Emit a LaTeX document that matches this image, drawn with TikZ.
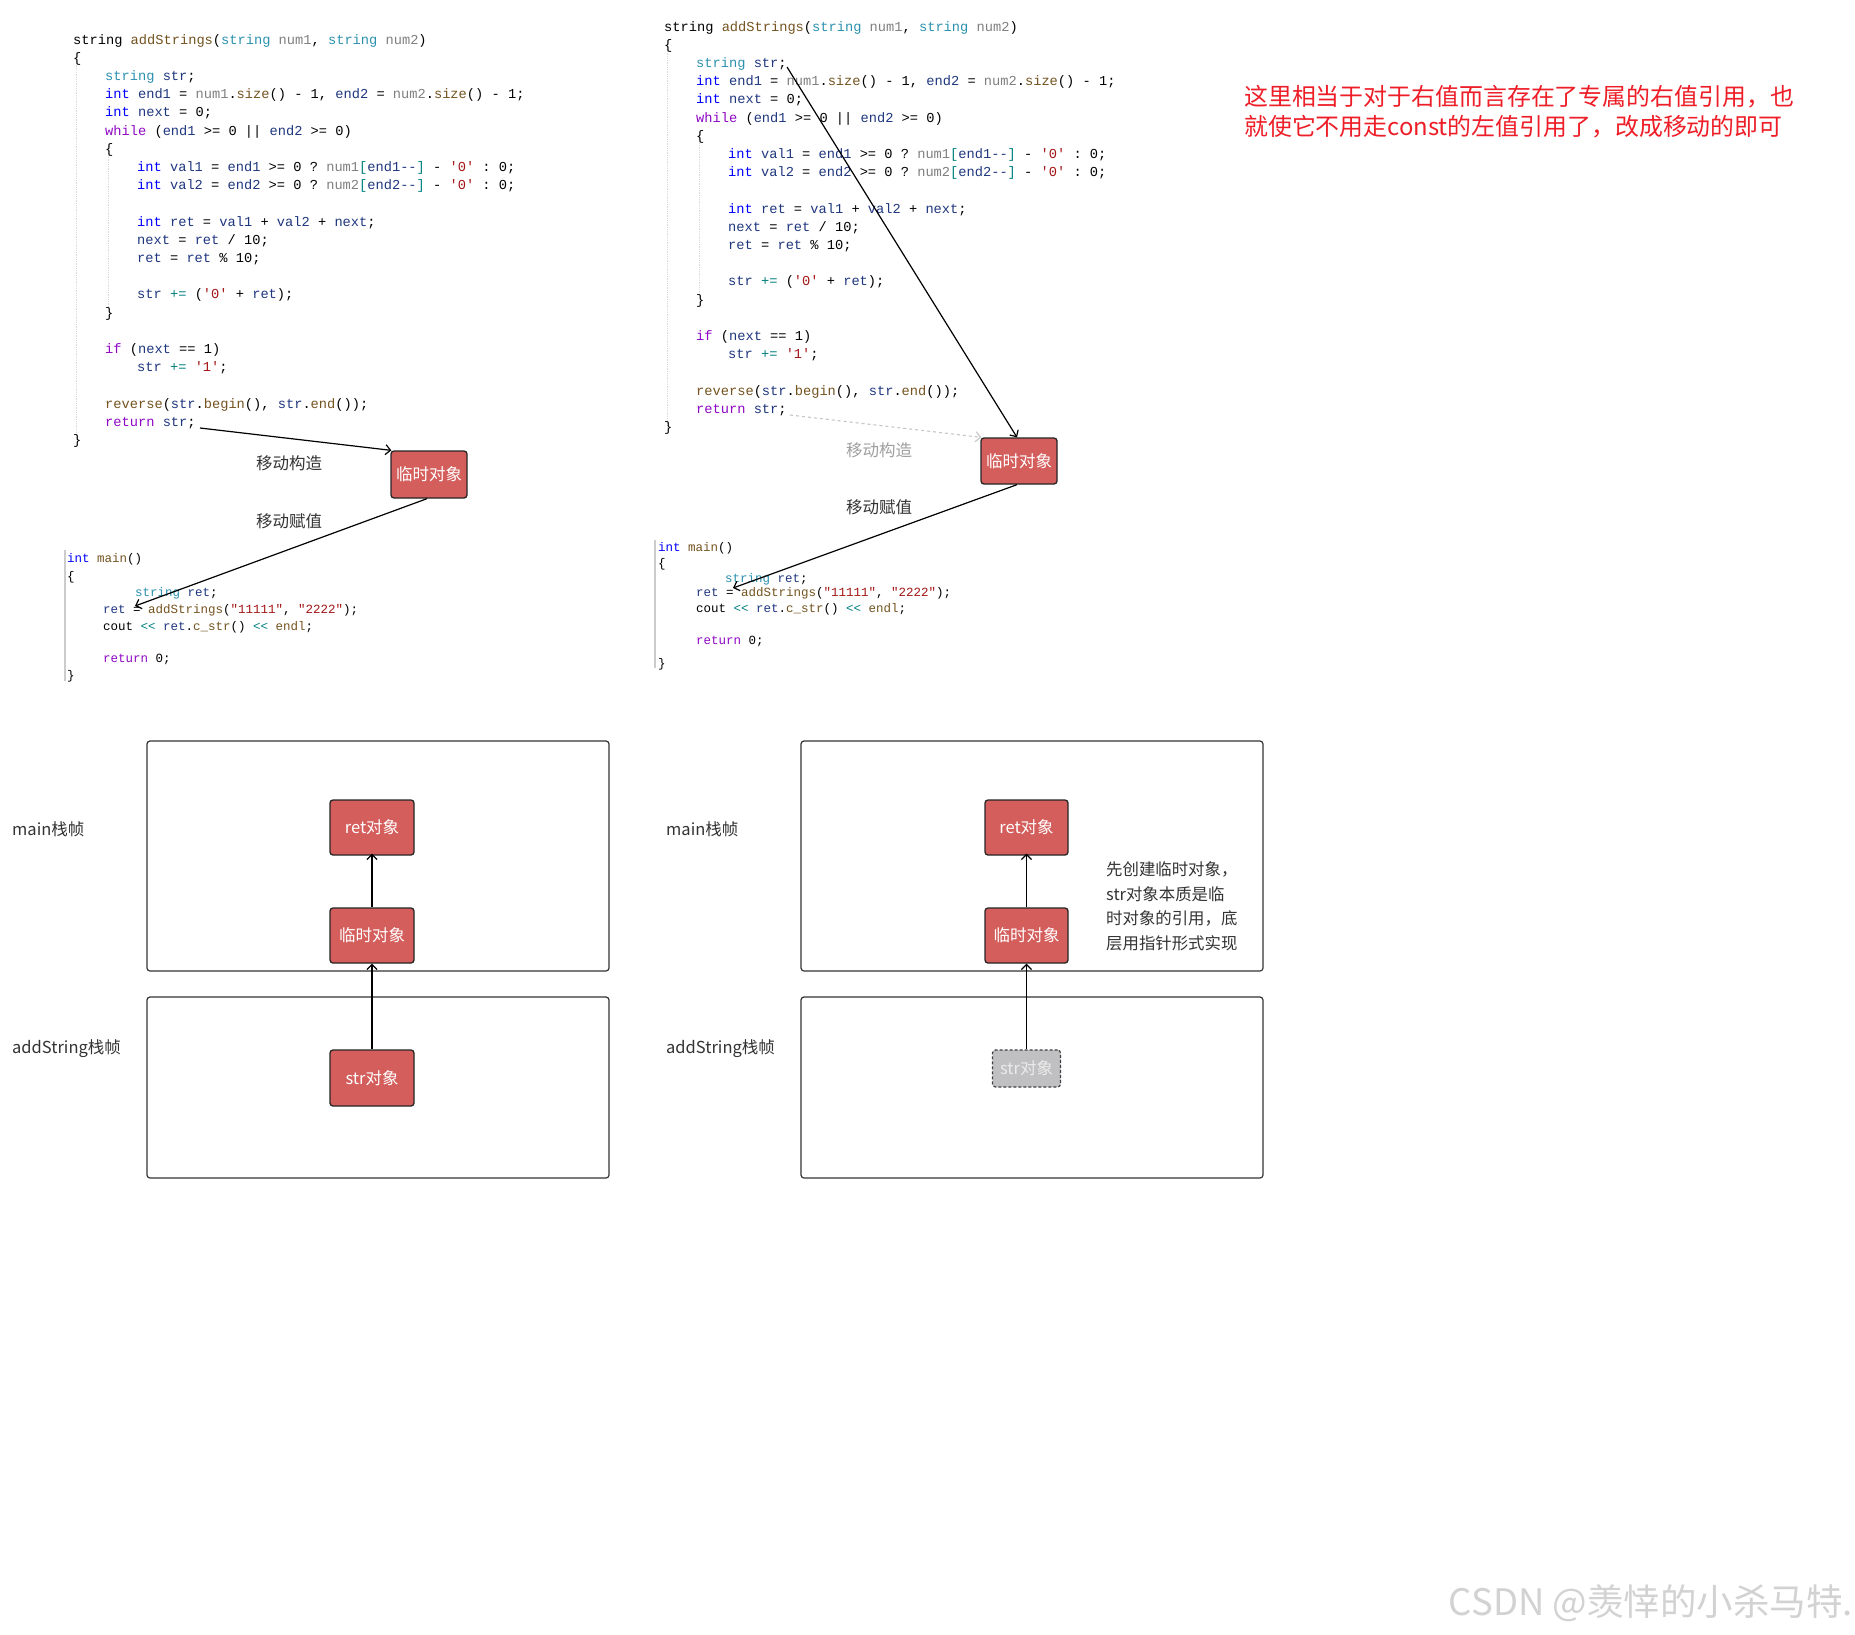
\documentclass[tikz,border=0pt]{standalone}
\usepackage{fontspec}
\setmonofont{Liberation Mono}
\newfontfamily\cjk{Noto Sans CJK SC}
\usetikzlibrary{arrows.meta}
\definecolor{ckw}{RGB}{0,0,255}
\definecolor{cty}{RGB}{43,145,175}
\definecolor{cctl}{RGB}{143,8,196}
\definecolor{cvar}{RGB}{31,55,127}
\definecolor{cpar}{RGB}{128,128,128}
\definecolor{cfn}{RGB}{116,83,31}
\definecolor{clit}{RGB}{163,21,21}
\definecolor{cop}{RGB}{0,128,128}
\definecolor{objred}{RGB}{212,94,92}
\definecolor{objgray}{RGB}{192,192,194}
\definecolor{notered}{RGB}{238,30,40}
\definecolor{labelgray}{RGB}{51,51,51}
\newcommand\Ckw[1]{\textcolor{ckw}{#1}}
\newcommand\Cty[1]{\textcolor{cty}{#1}}
\newcommand\Cctl[1]{\textcolor{cctl}{#1}}
\newcommand\Cvar[1]{\textcolor{cvar}{#1}}
\newcommand\Cpar[1]{\textcolor{cpar}{#1}}
\newcommand\Cfn[1]{\textcolor{cfn}{#1}}
\newcommand\Clit[1]{\textcolor{clit}{#1}}
\newcommand\Cop[1]{\textcolor{cop}{#1}}
\tikzset{
  code/.style={font=\ttfamily\fontsize{13.7}{16}\selectfont, inner sep=0, anchor=base west, text=black},
  mcode/.style={font=\ttfamily\fontsize{12.5}{15}\selectfont, inner sep=0, anchor=base west, text=black},
  obj/.style={draw=black!85, fill=objred, rounded corners=3, line width=1.3, text=white,
    font=\cjk\fontsize{16.5}{18}\selectfont, inner sep=0},
  ghost/.style={draw=black!75, fill=objgray, rounded corners=3, line width=1.2, densely dashed,
    text=white!92!black, font=\cjk\fontsize{16.5}{18}\selectfont, inner sep=0},
  frame/.style={draw=black!80, rounded corners=3, line width=1.2, inner sep=0},
  lbl/.style={font=\cjk\fontsize{16.5}{20}\selectfont, text=labelgray, inner sep=0},
  arr/.style={-{Straight Barb[length=5,width=10]}, line width=1.2, black},
  guide/.style={draw=gray!30, line width=0.8, densely dotted},
}
\begin{document}
\begin{tikzpicture}[x=1pt, y=-1pt]
\useasboundingbox[fill=white] (0,0) rectangle (1855,1634);

% ---------------- left top code ----------------
\draw[guide] (76,52) -- (76,440);
\draw[guide] (108,146) -- (108,308);
\node[code] (la0) at (73,44) {string \Cfn{addStrings}(\Cty{string} \Cpar{num1}, \Cty{string} \Cpar{num2})};
\node[code] (la1) at (73,62.2) {\{};
\node[code] (la2) at (105,80.4) {\Cty{string} \Cvar{str};};
\node[code] (la3) at (105,98.6) {\Ckw{int} \Cvar{end1} = \Cpar{num1}.\Cfn{size}() - 1, \Cvar{end2} = \Cpar{num2}.\Cfn{size}() - 1;};
\node[code] (la4) at (105,116.8) {\Ckw{int} \Cvar{next} = 0;};
\node[code] (la5) at (105,135) {\Cctl{while} (\Cvar{end1} >= 0 || \Cvar{end2} >= 0)};
\node[code] (la6) at (105,153.2) {\{};
\node[code] (la7) at (137,171.4) {\Ckw{int} \Cvar{val1} = \Cvar{end1} >= 0 ? \Cpar{num1}\Cop{[}\Cvar{end1--}\Cop{]} - \Clit{'0'} : 0;};
\node[code] (la8) at (137,189.6) {\Ckw{int} \Cvar{val2} = \Cvar{end2} >= 0 ? \Cpar{num2}\Cop{[}\Cvar{end2--}\Cop{]} - \Clit{'0'} : 0;};
\node[code] (la10) at (137,226) {\Ckw{int} \Cvar{ret} = \Cvar{val1} + \Cvar{val2} + \Cvar{next};};
\node[code] (la11) at (137,244.2) {\Cvar{next} = \Cvar{ret} / 10;};
\node[code] (la12) at (137,262.4) {\Cvar{ret} = \Cvar{ret} \% 10;};
\node[code] (la14) at (137,298.8) {\Cvar{str} \Cop{+=} (\Clit{'0'} + \Cvar{ret});};
\node[code] (la15) at (105,317) {\}};
\node[code] (la17) at (105,353.4) {\Cctl{if} (\Cvar{next} == 1)};
\node[code] (la18) at (137,371.6) {\Cvar{str} \Cop{+=} \Clit{'1'};};
\node[code] (la20) at (105,408) {\Cfn{reverse}(\Cvar{str}.\Cfn{begin}(), \Cvar{str}.\Cfn{end}());};
\node[code] (la21) at (105,426.2) {\Cctl{return} \Cvar{str};};
\node[code] (la22) at (73,444.4) {\}};

% ---------------- right top code ----------------
\draw[guide] (667,40) -- (667,428);
\draw[guide] (699,134) -- (699,296);
\node[code] (ra0) at (664,31) {string \Cfn{addStrings}(\Cty{string} \Cpar{num1}, \Cty{string} \Cpar{num2})};
\node[code] (ra1) at (664,49.2) {\{};
\node[code] (ra2) at (696,67.4) {\Cty{string} \Cvar{str};};
\node[code] (ra3) at (696,85.6) {\Ckw{int} \Cvar{end1} = \Cpar{num1}.\Cfn{size}() - 1, \Cvar{end2} = \Cpar{num2}.\Cfn{size}() - 1;};
\node[code] (ra4) at (696,103.8) {\Ckw{int} \Cvar{next} = 0;};
\node[code] (ra5) at (696,122) {\Cctl{while} (\Cvar{end1} >= 0 || \Cvar{end2} >= 0)};
\node[code] (ra6) at (696,140.2) {\{};
\node[code] (ra7) at (728,158.4) {\Ckw{int} \Cvar{val1} = \Cvar{end1} >= 0 ? \Cpar{num1}\Cop{[}\Cvar{end1--}\Cop{]} - \Clit{'0'} : 0;};
\node[code] (ra8) at (728,176.6) {\Ckw{int} \Cvar{val2} = \Cvar{end2} >= 0 ? \Cpar{num2}\Cop{[}\Cvar{end2--}\Cop{]} - \Clit{'0'} : 0;};
\node[code] (ra10) at (728,213) {\Ckw{int} \Cvar{ret} = \Cvar{val1} + \Cvar{val2} + \Cvar{next};};
\node[code] (ra11) at (728,231.2) {\Cvar{next} = \Cvar{ret} / 10;};
\node[code] (ra12) at (728,249.4) {\Cvar{ret} = \Cvar{ret} \% 10;};
\node[code] (ra14) at (728,285.8) {\Cvar{str} \Cop{+=} (\Clit{'0'} + \Cvar{ret});};
\node[code] (ra15) at (696,304) {\}};
\node[code] (ra17) at (696,340.4) {\Cctl{if} (\Cvar{next} == 1)};
\node[code] (ra18) at (728,358.6) {\Cvar{str} \Cop{+=} \Clit{'1'};};
\node[code] (ra20) at (696,395) {\Cfn{reverse}(\Cvar{str}.\Cfn{begin}(), \Cvar{str}.\Cfn{end}());};
\node[code] (ra21) at (696,413.2) {\Cctl{return} \Cvar{str};};
\node[code] (ra22) at (664,431.4) {\}};

% ---------------- red note ----------------
\node[anchor=north west, inner sep=0, align=left, text=notered,
  font=\cjk\fontsize{23.9}{30}\selectfont] (note) at (1244,85)
  {这里相当于对于右值而言存在了专属的右值引用，也\\就使它不用走const的左值引用了，改成移动的即可};

% ---------------- left main code ----------------
\draw[gray!40, line width=1.2] (65,550) -- (65,681);
\node[mcode] (lm0) at (67,562) {\Ckw{int} \Cfn{main}()};
\node[mcode] (lm1) at (67,580) {\{};
\node[mcode] (lm2) at (135,596) {\Cty{string} \Cvar{ret};};
\node[mcode] (lm3) at (103,613) {\Cvar{ret} = \Cfn{addStrings}(\Clit{"11111"}, \Clit{"2222"});};
\node[mcode] (lm4) at (103,630) {cout \Cop{<<} \Cvar{ret}.\Cfn{c\_str}() \Cop{<<} \Cfn{endl};};
\node[mcode] (lm5) at (103,662) {\Cctl{return} 0;};
\node[mcode] (lm6) at (67,679) {\}};

% ---------------- right main code ----------------
\draw[gray!40, line width=1.2] (655,540) -- (655,668);
\node[mcode] (rm0) at (658,551) {\Ckw{int} \Cfn{main}()};
\node[mcode] (rm1) at (658,567) {\{};
\node[mcode] (rm2) at (725,582) {\Cty{string} \Cvar{ret};};
\node[mcode] (rm3) at (696,596) {\Cvar{ret} = \Cfn{addStrings}(\Clit{"11111"}, \Clit{"2222"});};
\node[mcode] (rm4) at (696,612) {cout \Cop{<<} \Cvar{ret}.\Cfn{c\_str}() \Cop{<<} \Cfn{endl};};
\node[mcode] (rm5) at (696,644) {\Cctl{return} 0;};
\node[mcode] (rm6) at (658,667) {\}};

% ---------------- top temp objects and arrows ----------------
\node[obj, minimum width=76, minimum height=47] (t1) at (429,474.5) {临时对象};
\node[obj, minimum width=76, minimum height=46] (t2) at (1019,461) {临时对象};

\node[lbl] (lc1) at (289,463) {移动构造};
\node[lbl] (lv1) at (289,521) {移动赋值};
\node[lbl, text=gray!75] (lc2) at (879,450) {移动构造};
\node[lbl] (lv2) at (879,507) {移动赋值};

\coordinate (s1) at (200,428);
\coordinate (e1) at (135,606);
\coordinate (s2) at (787,67);
\coordinate (s3) at (790,415);
\coordinate (e2) at (733,588);

\draw[arr] (s1) -- ([xshift=1pt]t1.north west);
\draw[arr] ([xshift=-2pt]t1.south) -- (e1);
\draw[arr] (s2) -- ([xshift=-2pt]t2.north);
\draw[-{Straight Barb[length=5,width=10]}, gray!45, line width=1.1, dash pattern=on 3pt off 3pt] (s3) -- ([xshift=1pt]t2.north west);
\draw[arr] ([xshift=-2pt]t2.south) -- (e2);

% ---------------- bottom left diagram ----------------
\node[frame, minimum width=462, minimum height=230] (mf1) at (378,856) {};
\node[frame, minimum width=462, minimum height=181] (af1) at (378,1087.5) {};
\node[lbl, anchor=west] (ml1) at (12,829) {main栈帧};
\node[lbl, anchor=west] (al1) at (12,1049) {addString栈帧};
\node[obj, minimum width=84, minimum height=55] (ret1) at (372,827.5) {ret对象};
\node[obj, minimum width=84, minimum height=55] (tmp1) at (372,935.5) {临时对象};
\node[obj, minimum width=84, minimum height=56] (str1) at (372,1078) {str对象};
\draw[arr] (tmp1.north) -- ([yshift=2pt]ret1.south);
\draw[arr] (str1.north) -- (tmp1.south);

% ---------------- bottom right diagram ----------------
\node[frame, minimum width=462, minimum height=230] (mf2) at (1032,856) {};
\node[frame, minimum width=462, minimum height=181] (af2) at (1032,1087.5) {};
\node[lbl, anchor=west] (ml2) at (666,829) {main栈帧};
\node[lbl, anchor=west] (al2) at (666,1049) {addString栈帧};
\node[obj, minimum width=83, minimum height=55] (ret2) at (1026.5,827.5) {ret对象};
\node[obj, minimum width=83, minimum height=55] (tmp2) at (1026.5,935.5) {临时对象};
\node[ghost, minimum width=68, minimum height=37] (str2) at (1026.5,1068.5) {str对象};
\draw[arr] (tmp2.north) -- ([yshift=2pt]ret2.south);
\draw[arr] (str2.north) -- (tmp2.south);
\node[anchor=north west, inner sep=0, align=left, text=labelgray,
  font=\cjk\fontsize{16.4}{24.5}\selectfont] (expl) at (1106,861.5)
  {先创建临时对象，\\str对象本质是临\\时对象的引用，底\\层用指针形式实现};

% ---------------- watermark ----------------
\node[anchor=base east, inner sep=0, text=gray!35, font=\cjk\fontsize{36.5}{36.5}\selectfont] (wm) at (1853,1615) {CSDN @羡悻的小杀马特.};
\end{tikzpicture}
\end{document}
